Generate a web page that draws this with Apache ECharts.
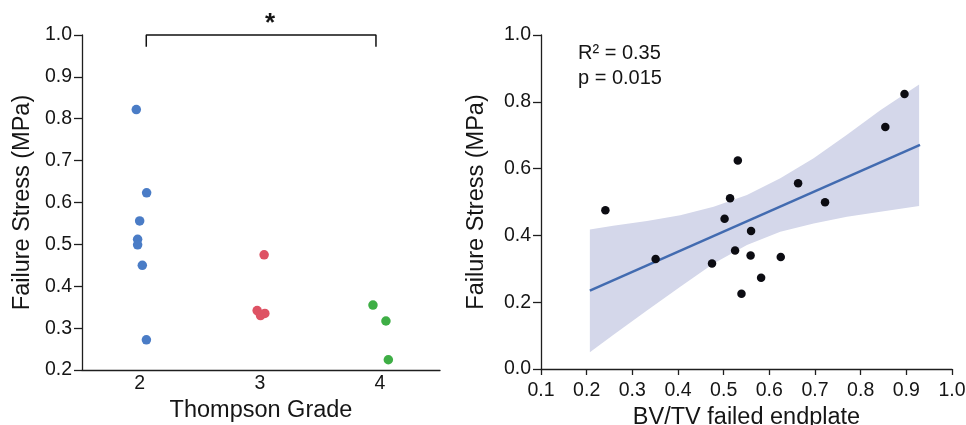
<!DOCTYPE html>
<html>
<head>
<meta charset="utf-8">
<script src="https://cdn.jsdelivr.net/npm/echarts@6/dist/echarts.min.js"></script>
<style>
html,body{margin:0;padding:0;background:#fff;}
#chart{width:966px;height:425px;}
</style>
</head>
<body>
<div id="chart"></div>
<script>
// ---- Left panel: Failure stress by Thompson grade (jittered) ----
const gradeTicks = [2, 3, 4];
const grade2X = [1.972, 2.058, 2.000, 1.983, 1.983, 2.022, 2.056];
const grade2Y = [0.822, 0.623, 0.556, 0.512, 0.499, 0.450, 0.272];
const grade3X = [3.036, 2.978, 3.006, 3.042];
const grade3Y = [0.475, 0.342, 0.330, 0.335];
const grade4X = [3.942, 4.050, 4.070];
const grade4Y = [0.355, 0.317, 0.2245];
// significance bracket between grade 2 and 4
const bracketX = [2.055, 2.055, 3.967, 3.967];
const bracketY = [0.972, 1.0, 1.0, 0.972];

// ---- Right panel: Failure stress vs BV/TV ----
const bvtv   = [0.241, 0.351, 0.4745, 0.502, 0.514, 0.531, 0.525, 0.539, 0.559, 0.560, 0.582, 0.625, 0.663, 0.722, 0.854, 0.896];
const stress = [0.475, 0.329, 0.316, 0.450, 0.511, 0.624, 0.355, 0.2255, 0.340, 0.413, 0.273, 0.335, 0.556, 0.499, 0.7245, 0.823];
const fitX = [0.207, 0.930];
const fitY = [0.2345, 0.671];
const bandX     = [0.207, 0.258, 0.332, 0.405, 0.478, 0.551, 0.624, 0.697, 0.770, 0.843, 0.928];
const bandUpper = [0.418, 0.429, 0.443, 0.460, 0.486, 0.521, 0.571, 0.631, 0.701, 0.775, 0.852];
const bandLower = [0.050, 0.102, 0.175, 0.246, 0.316, 0.371, 0.411, 0.436, 0.456, 0.471, 0.488];
const statsText = ['R\u00B2 = 0.35', 'p = 0.015'];

const FONT = "'Liberation Sans', Arial, Helvetica, sans-serif";
const TXT = '#151515';
const AX = '#1e1e1e';

const zip = (xs, ys) => xs.map((x, i) => [x, ys[i]]);

const chart = echarts.init(document.getElementById('chart'), null, {renderer: 'canvas'});

const axisCommon = {
  axisLine: {show: true, lineStyle: {color: AX, width: 1.3}},
  splitLine: {show: false},
  axisLabel: {color: TXT, fontSize: 19.5, fontFamily: FONT},
  nameTextStyle: {color: TXT, fontSize: 23.5, fontFamily: FONT},
  nameLocation: 'middle'
};

const option = {
  animation: false,
  backgroundColor: '#fff',
  textStyle: {fontFamily: FONT},
  grid: [
    {left: 82, top: 35, width: 358, height: 335, containLabel: false, outerBoundsMode: 'none'},
    {left: 541, top: 35, width: 411, height: 334, containLabel: false, outerBoundsMode: 'none'}
  ],
  xAxis: [
    Object.assign({}, axisCommon, {
      gridIndex: 0, type: 'value', min: 1.52, max: 4.5,
      name: 'Thompson Grade', nameGap: 21,
      axisTick: {show: false},
      axisLabel: Object.assign({}, axisCommon.axisLabel, {
        customValues: gradeTicks, margin: 4,
        formatter: v => String(Math.round(v))
      })
    }),
    Object.assign({}, axisCommon, {
      gridIndex: 1, type: 'value', min: 0.1, max: 1.0, interval: 0.1,
      name: 'BV/TV failed endplate', nameGap: 37,
      axisTick: {show: true, length: 6, inside: false, lineStyle: {color: AX, width: 1.3}},
      axisLabel: Object.assign({}, axisCommon.axisLabel, {
        margin: 12, formatter: v => v.toFixed(1), showMinLabel: true, showMaxLabel: true
      })
    })
  ],
  yAxis: [
    Object.assign({}, axisCommon, {
      gridIndex: 0, type: 'value', min: 0.2, max: 1.0, interval: 0.1,
      name: 'Failure Stress (MPa)', nameGap: 47,
      axisTick: {show: true, length: 8, lineStyle: {color: AX, width: 1.3}},
      axisLabel: Object.assign({}, axisCommon.axisLabel, {
        margin: 10, formatter: v => v.toFixed(1)
      })
    }),
    Object.assign({}, axisCommon, {
      gridIndex: 1, type: 'value', min: 0, max: 1.0, interval: 0.2,
      name: 'Failure Stress (MPa)', nameGap: 52,
      axisTick: {show: true, length: 8, lineStyle: {color: AX, width: 1.3}},
      axisLabel: Object.assign({}, axisCommon.axisLabel, {
        margin: 10, formatter: v => v.toFixed(1)
      })
    })
  ],
  graphic: [
    {type: 'text', x: 270, y: 11, style: {text: '*', font: 'bold 26px ' + FONT, fill: TXT, textAlign: 'center'}},
    {type: 'text', x: 578, y: 41, style: {text: statsText.join('\n'), font: '20px ' + FONT, lineHeight: 25, fill: TXT}}
  ],
  series: [
    {
      type: 'scatter', xAxisIndex: 0, yAxisIndex: 0, symbolSize: 9.5,
      itemStyle: {color: '#4a7cc6', opacity: 1}, data: zip(grade2X, grade2Y)
    },
    {
      type: 'scatter', xAxisIndex: 0, yAxisIndex: 0, symbolSize: 9.5,
      itemStyle: {color: '#de5264', opacity: 1}, data: zip(grade3X, grade3Y)
    },
    {
      type: 'scatter', xAxisIndex: 0, yAxisIndex: 0, symbolSize: 9.5,
      itemStyle: {color: '#3eae45', opacity: 1}, data: zip(grade4X, grade4Y)
    },
    {
      type: 'line', xAxisIndex: 0, yAxisIndex: 0, symbol: 'none', clip: false,
      lineStyle: {color: '#111', width: 1.5}, data: zip(bracketX, bracketY), z: 1
    },
    {
      type: 'custom', xAxisIndex: 1, yAxisIndex: 1, z: 1,
      data: [[bandX[0], bandLower[0]]],
      renderItem: function (params, api) {
        const pts = [];
        for (let i = 0; i < bandX.length; i++) pts.push(api.coord([bandX[i], bandUpper[i]]));
        for (let i = bandX.length - 1; i >= 0; i--) pts.push(api.coord([bandX[i], bandLower[i]]));
        return {type: 'polygon', shape: {points: pts}, style: {fill: '#d4d7ea'}};
      }
    },
    {
      type: 'line', xAxisIndex: 1, yAxisIndex: 1, symbol: 'none', z: 2,
      lineStyle: {color: '#426bb0', width: 2.5}, data: zip(fitX, fitY)
    },
    {
      type: 'scatter', xAxisIndex: 1, yAxisIndex: 1, symbolSize: 8.5, z: 3,
      itemStyle: {color: '#0c0c12', opacity: 1}, data: zip(bvtv, stress)
    }
  ]
};
chart.setOption(option);
</script>
</body>
</html>
